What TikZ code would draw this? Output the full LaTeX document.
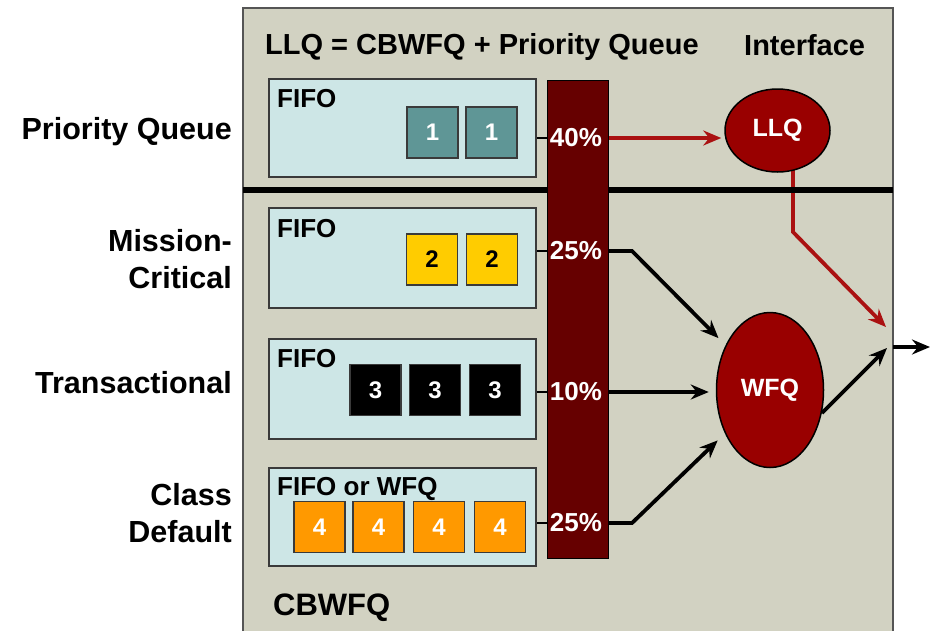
\documentclass[tikz,border=0pt]{standalone}
\usepackage{fontspec}
\setmainfont{Liberation Sans}
\usetikzlibrary{arrows.meta,shapes.geometric,calc}
\pgfdeclarelayer{back}
\pgfdeclarelayer{links}
\pgfsetlayers{back,links,main}
\definecolor{panelbg}{HTML}{D2D2C2}
\definecolor{panelline}{HTML}{555555}
\definecolor{qfill}{HTML}{CDE6E6}
\definecolor{qline}{HTML}{3A3A3A}
\definecolor{tealpk}{HTML}{5F9696}
\definecolor{yellowpk}{HTML}{FFCC00}
\definecolor{orangepk}{HTML}{FF9900}
\definecolor{barred}{HTML}{660000}
\definecolor{ellred}{HTML}{990000}
\definecolor{arrred}{HTML}{AA1111}
\tikzset{
  qbox/.style={draw=qline, line width=2pt, fill=qfill, rectangle, anchor=north west, inner sep=0pt},
  pk/.style={draw=qline, line width=1.5pt, rectangle, minimum width=51pt, minimum height=51pt, inner sep=0pt,
             font=\fontsize{24}{24}\selectfont\bfseries},
  fifo/.style={anchor=base west, inner sep=0pt, font=\fontsize{26}{26}\selectfont\bfseries},
  sidelbl/.style={anchor=east, align=right, inner sep=0pt, font=\fontsize{30.5}{37}\selectfont\bfseries},
  pct/.style={inner sep=0pt, text=white, font=\fontsize{26}{26}\selectfont\bfseries},
  sched/.style={ellipse, draw=black, line width=1.5pt, fill=ellred, text=white, inner sep=0pt,
                font=\fontsize{25}{25}\selectfont\bfseries},
  tip/.style={-{Stealth[length=18pt,width=15pt,inset=6pt]}},
  blkarrow/.style={tip, draw=black, line width=3.8pt},
  redarrow/.style={tip, draw=arrred, line width=3.8pt},
  tie/.style={draw=black, line width=2.8pt},
}
\begin{document}
\begin{tikzpicture}[x=1pt,y=-1pt]
\useasboundingbox (0,0) rectangle (931,630);

% panel
\begin{pgfonlayer}{back}
\fill[white] (0,0) rectangle (931,630);
\draw[fill=panelbg, draw=panelline, line width=2.5pt] (243,8) rectangle (893,640);
\end{pgfonlayer}

% titles
\node[anchor=base west, inner sep=0pt, font=\fontsize{29}{29}\selectfont\bfseries] (title) at (265,54) {LLQ = CBWFQ + Priority Queue};
\node[anchor=base west, inner sep=0pt, font=\fontsize{29}{29}\selectfont\bfseries] (iface) at (744,55) {Interface};
\node[anchor=base west, inner sep=0pt, font=\fontsize{31}{31}\selectfont\bfseries] (cbwfq) at (273,615) {CBWFQ};

% side labels
\node[sidelbl, anchor=base east] (lpq) at (232,139) {Priority Queue};
\node[sidelbl] (lmc) at (232,259.5) {Mission-\\Critical};
\node[sidelbl, anchor=base east] (ltr) at (232,393) {Transactional};
\node[sidelbl] (lcd) at (232,513.5) {Class\\Default};

% separator
\draw[line width=5.5pt, black] (243,190) coordinate (sepl) -- (893,190) coordinate (sepr);

% queue boxes
\node[qbox, minimum width=267pt, minimum height=98pt] (q1) at (268,78) {};
\node[qbox, minimum width=267pt, minimum height=100pt] (q2) at (268,207) {};
\node[qbox, minimum width=267pt, minimum height=100pt] (q3) at (268,338) {};
\node[qbox, minimum width=267pt, minimum height=98pt] (q4) at (268,467) {};

\node[fifo] (f1) at (277,107) {FIFO};
\node[fifo] (f2) at (277,237) {FIFO};
\node[fifo] (f3) at (277,367) {FIFO};
\node[fifo] (f4) at (277,495) {FIFO or WFQ};

% packets
\node[pk, fill=tealpk, text=white] (p11) at (432.5,132.5) {1};
\node[pk, fill=tealpk, text=white] (p12) at (491.5,132.5) {1};
\node[pk, fill=yellowpk, text=black] (p21) at (432,259.5) {2};
\node[pk, fill=yellowpk, text=black] (p22) at (492,259.5) {2};
\node[pk, fill=black, text=white] (p31) at (375.5,390) {3};
\node[pk, fill=black, text=white] (p32) at (435,390) {3};
\node[pk, fill=black, text=white] (p33) at (495,390) {3};
\node[pk, fill=orangepk, text=white] (p41) at (319.5,527) {4};
\node[pk, fill=orangepk, text=white] (p42) at (378.5,527) {4};
\node[pk, fill=orangepk, text=white] (p43) at (439,527) {4};
\node[pk, fill=orangepk, text=white] (p44) at (500,527) {4};

% bandwidth bar
\node[rectangle, fill=barred, draw=black, line width=1pt, anchor=north west, inner sep=0pt,
      minimum width=61pt, minimum height=478pt] (bar) at (547,80) {};
\node[pct] (c1) at (576,138) {40\%};
\node[pct] (c2) at (576,251) {25\%};
\node[pct] (c3) at (576,392) {10\%};
\node[pct] (c4) at (576,523) {25\%};

% schedulers
\node[sched, minimum width=105pt, minimum height=83pt] (llq) at (777.5,130.5) {LLQ};
\node[sched, minimum width=107pt, minimum height=155pt] (wfq) at (770,390) {WFQ};

% helper points
\coordinate (k1) at (632,251);
\coordinate (k2) at (632,523);
\coordinate (b1) at (793,232);
\coordinate (rin) at (886,327);
\coordinate (bin) at (887,348);
\coordinate (ifin) at (893,347);
\coordinate (ifout) at (930,347);

% ties from queues to bar
\draw[tie] (q1.east |- c1) -- (c1 -| bar.west);
\draw[tie] (q2.east |- c2) -- (c2 -| bar.west);
\draw[tie] (q3.east |- c3) -- (c3 -| bar.west);
\draw[tie] (q4.east |- c4) -- (c4 -| bar.west);

% priority path
\draw[redarrow, shorten >=3pt] (c1 -| bar.east) -- (c1 -| llq.west);
\begin{pgfonlayer}{links}
\draw[redarrow, line join=miter] (llq.center -| b1) -- (b1) -- (rin);
\end{pgfonlayer}

% class paths
\draw[blkarrow, line join=miter, shorten >=10pt] (c2 -| bar.east) -- (k1) -- (wfq);
\draw[blkarrow, shorten >=7pt] (c3 -| bar.east) -- (c3 -| wfq.west);
\draw[blkarrow, line join=miter, shorten >=10pt] (c4 -| bar.east) -- (k2) -- (wfq);
\draw[blkarrow] (wfq.-24) -- (bin);
\draw[blkarrow] (ifin) -- (ifout);
\end{tikzpicture}
\end{document}
